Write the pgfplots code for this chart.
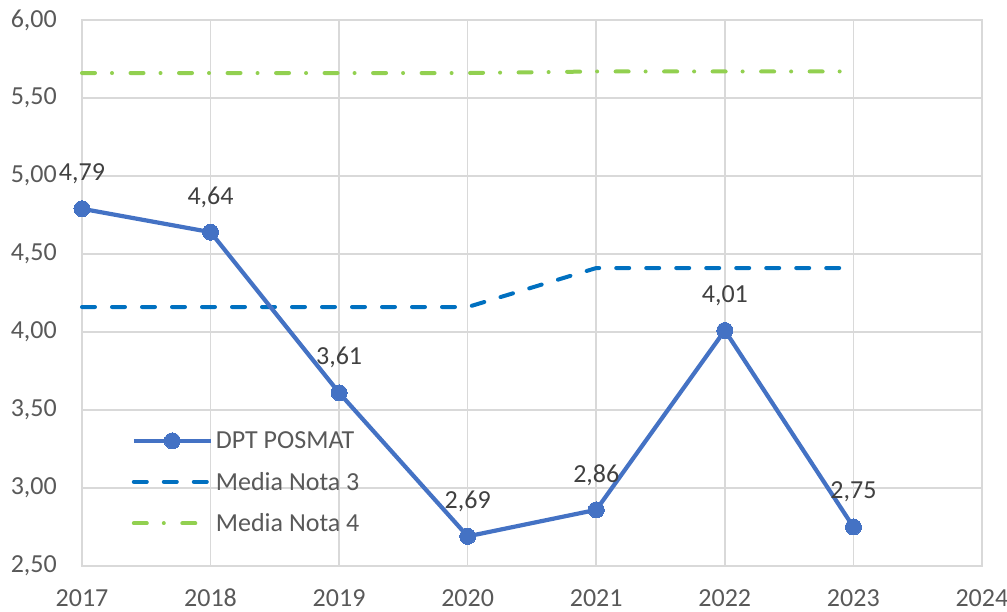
\documentclass[border=0pt]{standalone}
\usepackage{pgfplots}
\pgfplotsset{compat=1.18}
\usepackage{fontspec}
\setmainfont{Carlito}
\definecolor{mainblue}{HTML}{4472C4}
\definecolor{dashblue}{HTML}{0070C0}
\definecolor{lgreen}{HTML}{92D050}
\definecolor{gridgray}{HTML}{D9D9D9}
\definecolor{ticktext}{HTML}{595959}
\definecolor{labtext}{HTML}{404040}
\begin{document}
\begin{tikzpicture}
\begin{axis}[
  scale only axis, width=900pt, height=546pt,
  xmin=2017, xmax=2024, ymin=2.5, ymax=6,
  xtick={2017,...,2024}, ytick={2.5,3,...,6},
  grid=major, major grid style={gridgray, line width=1.5pt},
  axis line style={gridgray, line width=1.5pt},
  major tick length=0pt,
  clip=false,
  font=\fontsize{26}{31}\selectfont,
  tick label style={font=\fontsize{26}{31}\selectfont, text=ticktext},
  xticklabel style={/pgf/number format/1000 sep={}, /pgf/number format/assume math mode=true, anchor=north, inner sep=0pt, yshift=-23pt},
  yticklabel style={/pgf/number format/.cd, fixed, fixed zerofill, precision=2, use comma, assume math mode=true, /tikz/.cd, anchor=east, inner sep=0pt, xshift=-25pt},
  reverse legend,
  legend cell align=left,
  legend style={draw=none, fill=none, at={(rel axis cs:0.055,0.252)}, anchor=north west, font=\fontsize{26}{31}\selectfont, text=ticktext, row sep=16pt, inner sep=0pt,
    nodes={inner sep=3pt}},
  legend image code/.code={\draw[#1, mark repeat=2, mark phase=2] plot coordinates {(0pt,0pt) (38.5pt,0pt) (77pt,0pt)};},
]
\addplot[lgreen, line width=4pt, line cap=round, dash pattern=on 13pt off 17pt on 0.01pt off 18.5pt, mark=none] coordinates {
(2017,5.66) (2018,5.66) (2019,5.66) (2020,5.66) (2021,5.67) (2022,5.67) (2023,5.67)};
\addlegendentry{Media Nota 4}
\addplot[dashblue, line width=4pt, line cap=round, dash pattern=on 13pt off 17pt, mark=none] coordinates {
(2017,4.16) (2018,4.16) (2019,4.16) (2020,4.16) (2021,4.41) (2022,4.41) (2023,4.41)};
\addlegendentry{Media Nota 3}
\addplot[mainblue, line width=4.2pt, mark=*, mark size=8pt, mark options={solid, fill=mainblue, draw=mainblue, line width=0pt},
  nodes near coords={\pgfmathprintnumber[fixed,fixed zerofill,precision=2,use comma,assume math mode=true]{\pgfplotspointmeta}},
  nodes near coords style={anchor=center, yshift=35pt, inner sep=0pt, text=labtext, font=\fontsize{26}{31}\selectfont}] coordinates {
(2017,4.79) (2018,4.64) (2019,3.61) (2020,2.69) (2021,2.86) (2022,4.01) (2023,2.75)};
\addlegendentry{DPT POSMAT}
\end{axis}
\pgfresetboundingbox
\path (current axis.south west) ++(-82pt,-46pt) rectangle ++(1007pt,612pt);
\end{tikzpicture}
\end{document}
